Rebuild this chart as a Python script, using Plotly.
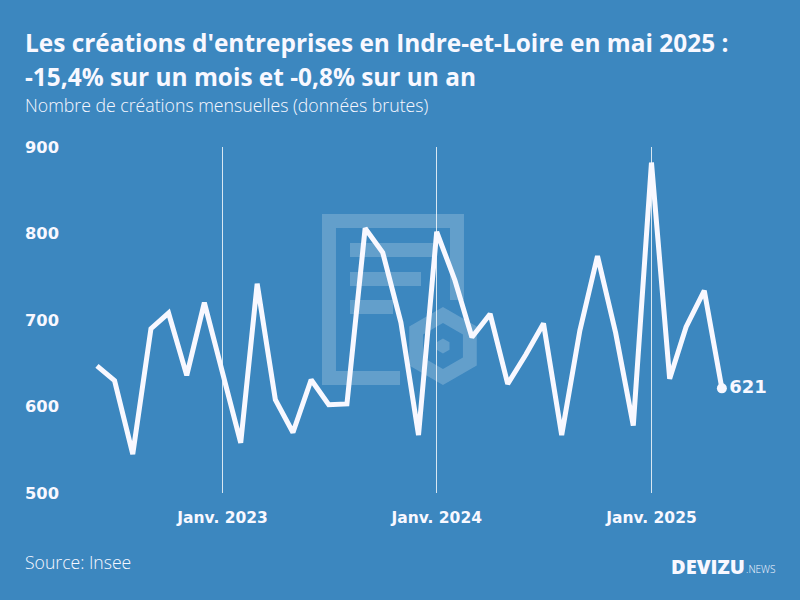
import plotly.graph_objects as go

BG = '#3c87bf'
WHITE = '#f8f8ff'
FONT = 'Open Sans'
NUM_FONT = 'DejaVu Sans'

months = [
    '2022-06-01', '2022-07-01', '2022-08-01', '2022-09-01', '2022-10-01', '2022-11-01', '2022-12-01',
    '2023-01-01', '2023-02-01', '2023-03-01', '2023-04-01', '2023-05-01', '2023-06-01',
    '2023-07-01', '2023-08-01', '2023-09-01', '2023-10-01', '2023-11-01', '2023-12-01',
    '2024-01-01', '2024-02-01', '2024-03-01', '2024-04-01', '2024-05-01', '2024-06-01',
    '2024-07-01', '2024-08-01', '2024-09-01', '2024-10-01', '2024-11-01', '2024-12-01',
    '2025-01-01', '2025-02-01', '2025-03-01', '2025-04-01', '2025-05-01',
]
creations = [
    647, 630, 545, 690, 708, 636, 720,
    637, 558, 742, 608, 570, 631,
    602, 603, 806, 778, 697, 567,
    802, 746, 680, 707, 626, 660,
    696, 567, 688, 774, 685, 578,
    882, 632, 692, 734, 621,
]
year_ticks = ['2023-01-01', '2024-01-01', '2025-01-01']
year_labels = ['Janv. 2023', 'Janv. 2024', 'Janv. 2025']
y_ticks = [500, 600, 700, 800, 900]

# plot area in pixels
W, H = 800, 600
L, R, T, B = 60, 770, 147, 493


def px(x):
    return (x - L) / (R - L)


def py(y):
    return (B - y) / (B - T)


def poly(points):
    # closed polygon in pixel coords, converted to paper coords
    return 'M' + ' L'.join(f'{px(x):.4f},{py(y):.4f}' for x, y in points) + ' Z'


def hexagon(cx, cy, r):
    d = r * 0.866
    return [(cx, cy - r), (cx + d, cy - r / 2), (cx + d, cy + r / 2),
            (cx, cy + r), (cx - d, cy + r / 2), (cx - d, cy - r / 2)]


fig = go.Figure()

fig.add_trace(go.Scatter(
    x=months,
    y=creations,
    mode='lines',
    line=dict(color=WHITE, width=5),
    hoverinfo='skip',
))

# Last point with its value
fig.add_trace(go.Scatter(
    x=months[-1:],
    y=creations[-1:],
    mode='markers+text',
    marker=dict(color=WHITE, size=10),
    text=['<b>' + str(creations[-1]) + '</b>'],
    textposition='middle right',
    textfont=dict(family=NUM_FONT, size=18, color=WHITE),
    cliponaxis=False,
    hoverinfo='skip',
))

# Watermark behind the line
mark = 'rgba(255,255,255,0.2)'
frame = [(322, 214), (464, 214), (464, 300), (450, 300), (450, 228), (336, 228),
         (336, 371), (400, 371), (400, 385), (322, 385)]
rows = [(350, 243, 433, 257), (350, 272, 421, 286), (350, 300, 393, 314)]
shapes = [dict(type='path', xref='paper', yref='paper', path=poly(frame),
               fillcolor=mark, line_width=0, layer='below')]
for x0, y0, x1, y1 in rows:
    shapes.append(dict(type='rect', xref='paper', yref='paper', x0=px(x0), x1=px(x1), y0=py(y0), y1=py(y1),
                       fillcolor=mark, line_width=0, layer='below'))
outer = hexagon(443, 346, 39)
inner = hexagon(443, 346, 23)[::-1]
shapes.append(dict(type='path', xref='paper', yref='paper', path=poly(outer) + ' ' + poly(inner),
                   fillcolor=mark, line_width=0, layer='below'))
shapes.append(dict(type='path', xref='paper', yref='paper', path=poly(hexagon(443, 346, 7.5)),
                   fillcolor=mark, line_width=0, layer='below'))


def note(text, x, y, size, anchor='left', weight='normal', color=WHITE):
    return dict(text=text, xref='paper', yref='paper', x=px(x), y=py(y), xanchor=anchor, yanchor='middle',
                showarrow=False, align=anchor, font=dict(family=FONT, size=size, color=color, weight=weight))


annotations = [
    note("Les créations d'entreprises en Indre-et-Loire en mai 2025 :", 23, 42, 24.4, weight='bold'),
    note('-15,4% sur un mois et -0,8% sur un an', 23, 76, 24.4, weight='bold'),
    note('Nombre de créations mensuelles (données brutes)', 23, 105, 17.7, weight=300),
    note('Source: Insee', 23, 562, 17.6, weight=300),
    note('DEVIZU', 747, 566, 20, anchor='right', weight=800),
    note('.NEWS', 778, 569, 10, anchor='right', weight=300),
]

fig.update_layout(
    width=W,
    height=H,
    margin=dict(l=L, r=W - R, t=T, b=H - B, pad=0),
    paper_bgcolor=BG,
    plot_bgcolor=BG,
    showlegend=False,
    shapes=shapes,
    annotations=annotations,
    xaxis=dict(
        type='date',
        range=['2022-03-30', '2025-07-22'],
        tickmode='array',
        tickvals=year_ticks,
        ticktext=year_labels,
        showgrid=True,
        gridcolor='rgba(255,255,255,0.8)',
        gridwidth=1,
        zeroline=False,
        showline=False,
        ticks='',
        ticklabelstandoff=13,
        tickfont=dict(family=NUM_FONT, size=15.5, color=WHITE, weight='bold'),
    ),
    yaxis=dict(
        range=[500, 900],
        tickmode='array',
        tickvals=y_ticks,
        showgrid=False,
        zeroline=False,
        showline=False,
        ticks='',
        tickfont=dict(family=NUM_FONT, size=16.3, color=WHITE, weight='bold'),
    ),
)

fig.write_html("out.html", config=dict(displayModeBar=False),
               post_script="document.body.style.margin='0';")
